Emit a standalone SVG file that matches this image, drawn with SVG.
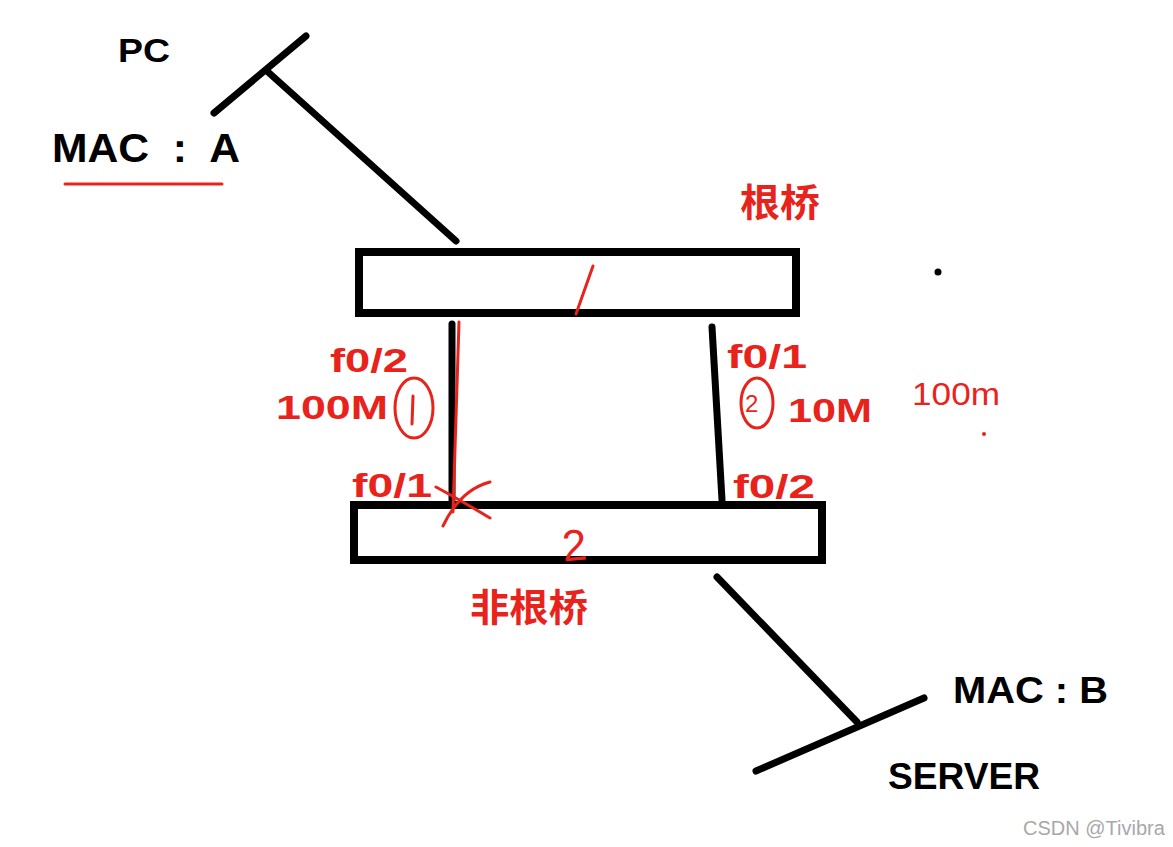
<svg xmlns="http://www.w3.org/2000/svg" width="1173" height="847" viewBox="0 0 1173 847">
<style>
.blk{stroke:#000;stroke-width:7;stroke-linecap:round;fill:none}
.sw{stroke:#000;stroke-width:8;fill:#fff}
.red{stroke:#e8231c;stroke-width:3;fill:none;stroke-linecap:round}
.lb{font-family:"Liberation Sans",Arial,sans-serif;font-weight:bold;fill:#000}
.rt{font-family:"Liberation Sans","Noto Sans CJK SC",sans-serif;font-weight:bold;fill:#e8231c}
.hw{font-family:"Liberation Sans",sans-serif;fill:#e8231c}
</style>
<rect width="1173" height="847" fill="#fff"/>
<g id="connectors">
<line class="blk" x1="268" y1="72" x2="456" y2="241"/>
<line class="blk" x1="452" y1="324" x2="452" y2="500"/>
<line class="blk" x1="712" y1="327" x2="722" y2="500"/>
<line class="blk" x1="717" y1="577" x2="857" y2="722"/>
</g>
<g id="pc">
<line class="blk" x1="214" y1="113" x2="306" y2="36"/>
<text class="lb" x="118" y="62" font-size="33" textLength="52" lengthAdjust="spacingAndGlyphs">PC</text>
<text class="lb" x="52" y="162" font-size="40" xml:space="preserve" textLength="188" lengthAdjust="spacingAndGlyphs">MAC  :  A</text>
<line class="red" x1="65" y1="184" x2="222" y2="184" stroke-width="4"/>
</g>
<g id="root-bridge">
<rect class="sw" x="359" y="252" width="437" height="61"/>
<line class="red" x1="593" y1="266" x2="576" y2="314" stroke-width="4"/>
<text class="rt" x="740" y="216" font-size="38" textLength="80" lengthAdjust="spacingAndGlyphs">根桥</text>
</g>
<g id="nonroot-bridge">
<rect class="sw" x="354" y="505" width="468" height="55"/>
<text class="hw" x="562" y="560" font-size="44" transform="rotate(-5 580 545)">2</text>
<text class="rt" x="470" y="621" font-size="38" textLength="118" lengthAdjust="spacingAndGlyphs">非根桥</text>
</g>
<g id="server">
<line class="blk" x1="756" y1="771" x2="924" y2="698"/>
<text class="lb" x="953" y="703" font-size="36" textLength="155" lengthAdjust="spacingAndGlyphs">MAC : B</text>
<text class="lb" x="888" y="789" font-size="36" textLength="152" lengthAdjust="spacingAndGlyphs">SERVER</text>
</g>
<g id="annotations">
<line class="red" x1="459" y1="322" x2="453" y2="512"/>
<text class="rt" x="330" y="372" font-size="34" textLength="78" lengthAdjust="spacingAndGlyphs">f0/2</text>
<text class="rt" x="276" y="419" font-size="34" textLength="112" lengthAdjust="spacingAndGlyphs">100M</text>
<ellipse class="red" cx="414" cy="408" rx="19" ry="30"/>
<line class="red" x1="413" y1="396" x2="412" y2="424"/>
<text class="rt" x="352" y="497" font-size="34" textLength="80" lengthAdjust="spacingAndGlyphs">f0/1</text>
<path class="red" d="M436 487 Q460 500 490 518 M443 526 Q460 490 490 482"/>
<text class="rt" x="727" y="368" font-size="34" textLength="80" lengthAdjust="spacingAndGlyphs">f0/1</text>
<ellipse class="red" cx="757" cy="403" rx="16" ry="25"/>
<text class="hw" x="745" y="412" font-size="24">2</text>
<text class="rt" x="788" y="422" font-size="34" textLength="84" lengthAdjust="spacingAndGlyphs">10M</text>
<text class="rt" x="733" y="498" font-size="34" textLength="82" lengthAdjust="spacingAndGlyphs">f0/2</text>
<text class="hw" x="912" y="405" font-size="32" textLength="88" lengthAdjust="spacingAndGlyphs">100m</text>
<circle cx="938" cy="272" r="3.5" fill="#000"/>
<circle cx="984" cy="434" r="2" fill="#e8231c"/>
</g>
<text x="1023" y="835" font-family="Liberation Sans,Arial,sans-serif" font-size="20" fill="#a8a8a8">CSDN @Tivibra</text>
</svg>
